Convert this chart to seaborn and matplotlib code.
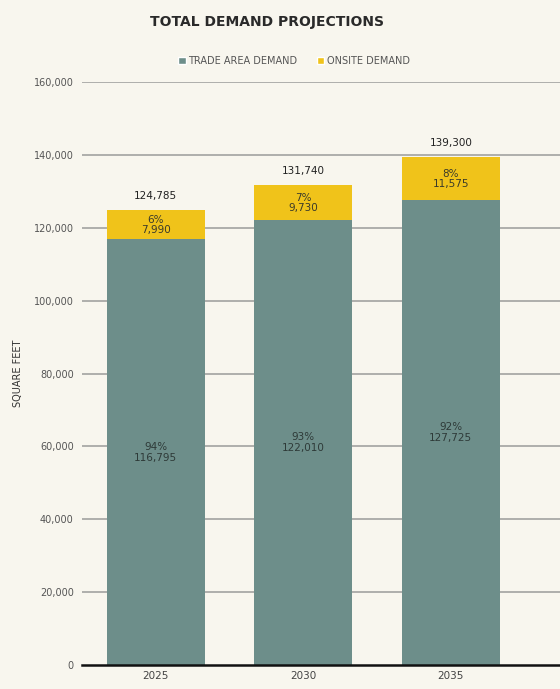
import seaborn as sns
import matplotlib.pyplot as plt
import pandas as pd
from matplotlib.patches import Patch

years = ["2025", "2030", "2035"]
trade_area = [116795, 122010, 127725]
onsite = [7990, 9730, 11575]
totals = [124785, 131740, 139300]

BG = "#f8f6ee"
TEAL = "#6d8e8a"
GOLD = "#f0c31a"
TXT = "#333333"

sns.set_theme(style="white", rc={
    "figure.facecolor": BG,
    "axes.facecolor": BG,
    "savefig.facecolor": BG,
})
plt.rcParams["font.family"] = ["DejaVu Sans"]

df = pd.DataFrame({"year": years, "trade": trade_area, "onsite": onsite, "total": totals})

fig = plt.figure(figsize=(5.6, 6.89), dpi=100)
ax = fig.add_axes([82 / 560, 1 - 665 / 689, 1 - 82 / 560, (665 - 82) / 689])

# gridlines behind bars
for v in range(20000, 160001, 20000):
    ax.axhline(v, color="#a9a9a6", lw=1.3, zorder=0)

sns.barplot(data=df, x="year", y="total", color=GOLD, width=0.665,
            saturation=1, linewidth=0, ax=ax, zorder=2)
sns.barplot(data=df, x="year", y="trade", color=TEAL, width=0.665,
            saturation=1, linewidth=0, ax=ax, zorder=3)

ax.set_xlim(-0.5, 2.74)
ax.set_ylim(0, 160000)
ax.set_yticks(range(0, 160001, 20000))
ax.set_yticklabels([f"{v:,}" for v in range(0, 160001, 20000)], fontsize=7, color="#555555")
ax.set_xticks(range(len(years)))
ax.set_xticklabels(years, fontsize=7.5, color="#444444")
ax.tick_params(axis="y", length=0, pad=6)
ax.tick_params(axis="x", length=0, pad=4)
for s in ["top", "right", "left"]:
    ax.spines[s].set_visible(False)
ax.spines["bottom"].set_color("#111111")
ax.spines["bottom"].set_linewidth(1.8)
ax.spines["bottom"].set_zorder(5)
ax.set_xlabel("")
ax.set_ylabel("SQUARE FEET", fontsize=7, color=TXT, labelpad=8)

for i in range(len(years)):
    t = trade_area[i]
    o = onsite[i]
    tot = totals[i]
    ax.text(i, tot + 2500, f"{tot:,}", ha="center", va="bottom", fontsize=7.5, color="#222222", zorder=6)
    ax.text(i, t + o / 2, f"{round(o / tot * 100)}%\n{o:,}", ha="center", va="center",
            fontsize=7.5, color="#3a3a2a", linespacing=1.0, zorder=6)
    ax.text(i, t / 2, f"{round(t / tot * 100)}%\n{t:,}", ha="center", va="center",
            fontsize=7.5, color="#2e3a38", linespacing=1.1, zorder=6)

fig.text(267 / 560, 1 - 22 / 689, "TOTAL DEMAND PROJECTIONS", ha="center", va="center",
         fontsize=10, fontweight="bold", color="#2a2a2a")

handles = [Patch(facecolor=TEAL, label="TRADE AREA DEMAND"),
           Patch(facecolor=GOLD, label="ONSITE DEMAND")]
fig.legend(handles=handles, loc="center", bbox_to_anchor=(294 / 560, 1 - 61 / 689),
           ncol=2, frameon=False, fontsize=7, handlelength=0.75, handleheight=0.75,
           handletextpad=0.25, columnspacing=2.0, labelcolor="#555555")

fig.savefig("out.png", dpi=100)
